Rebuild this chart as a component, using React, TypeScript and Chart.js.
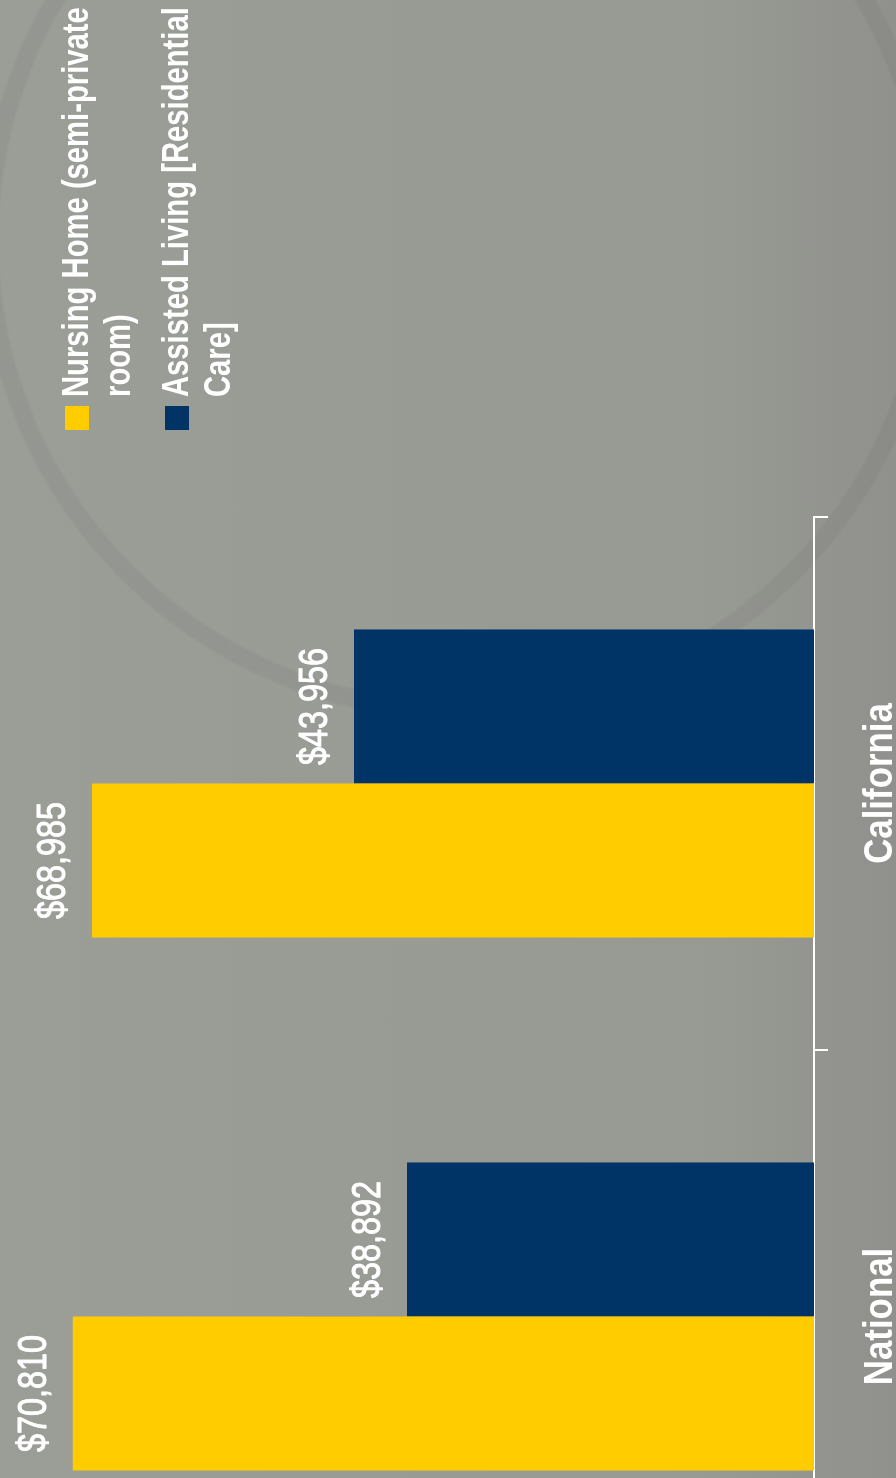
import React, { useEffect, useRef } from "react";
import { Chart, registerables } from "chart.js";

Chart.register(...registerables);

const categories = ["National", "California"];
const nursingHome = [70810, 68985];
const assistedLiving = [38892, 43956];
const seriesNames = [
  ["Nursing Home (semi-private", "room)"],
  ["Assisted Living [Residential", "Care]"],
];
const seriesColors = ["#FFCC00", "#003366"];

const FONT = "'Liberation Sans', Arial, sans-serif";

// draws value labels above bars and category labels under the axis (condensed like Arial Narrow)
const textPlugin = {
  id: "narrowText",
  afterDatasetsDraw(chart: any) {
    const ctx = chart.ctx;
    ctx.save();
    ctx.fillStyle = "#ffffff";
    ctx.strokeStyle = "#ffffff";
    ctx.lineWidth = 1;
    ctx.lineJoin = "round";
    ctx.textAlign = "center";
    ctx.textBaseline = "alphabetic";
    ctx.font = `normal 41px ${FONT}`;
    chart.data.datasets.forEach((ds: any, di: number) => {
      const meta = chart.getDatasetMeta(di);
      meta.data.forEach((bar: any, i: number) => {
        const v = ds.data[i];
        const txt = "$" + v.toLocaleString("en-US");
        ctx.save();
        ctx.translate(bar.x, bar.y - 27);
        ctx.scale(0.79, 1);
        ctx.fillText(txt, 0, 0);
        ctx.strokeText(txt, 0, 0);
        ctx.restore();
      });
    });
    const xs = chart.scales.x;
    ctx.font = `bold 41px ${FONT}`;
    chart.data.labels.forEach((lab: string, i: number) => {
      ctx.save();
      ctx.translate(xs.getPixelForValue(i), xs.top + 78);
      ctx.scale(0.85, 1);
      ctx.fillText(lab, 0, 0);
      ctx.restore();
    });
    ctx.restore();
  },
};

export default function App() {
  const ref = useRef<HTMLCanvasElement | null>(null);
  useEffect(() => {
    if (!ref.current) return;
    const chart = new Chart(ref.current, {
      type: "bar",
      data: {
        labels: categories,
        datasets: [
          {
            label: seriesNames[0].join(" "),
            data: nursingHome,
            backgroundColor: seriesColors[0],
            borderWidth: 0,
            categoryPercentage: 0.578,
            barPercentage: 1,
          },
          {
            label: seriesNames[1].join(" "),
            data: assistedLiving,
            backgroundColor: seriesColors[1],
            borderWidth: 0,
            categoryPercentage: 0.578,
            barPercentage: 1,
          },
        ],
      },
      options: {
        responsive: false,
        animation: false,
        devicePixelRatio: 1,
        layout: { padding: { top: 29, right: 517, left: 0, bottom: 0 } },
        plugins: { legend: { display: false }, tooltip: { enabled: false } },
        scales: {
          x: {
            grid: {
              offset: true,
              drawOnChartArea: false,
              drawTicks: true,
              tickLength: 14,
              color: "#ffffff",
              lineWidth: 2,
            },
            border: { color: "#ffffff", width: 2 },
            ticks: { display: false },
            afterFit: (s: any) => {
              s.height = 82;
            },
          },
          y: { display: false, min: 0, max: 75000 },
        },
      },
      plugins: [textPlugin],
    } as any);
    return () => chart.destroy();
  }, []);

  return (
    <div
      style={{
        position: "absolute",
        left: 0,
        top: 0,
        width: 896,
        height: 1478,
        overflow: "hidden",
        background:
          "radial-gradient(circle at 460px 240px, rgba(0,0,0,0) 460px, rgba(0,0,0,0.045) 463px, rgba(0,0,0,0.045) 478px, rgba(0,0,0,0) 481px), linear-gradient(to right, #9b9d97 0%, #979993 80%, #90918c 100%)",
      }}
    >
      <div
        style={{
          position: "absolute",
          left: 0,
          top: 0,
          width: 1478,
          height: 896,
          overflow: "hidden",
          transformOrigin: "0 0",
          transform: "translateY(1478px) rotate(-90deg)",
        }}
      >
        <canvas
          ref={ref}
          width={1583}
          height={896}
          style={{ position: "absolute", left: -105, top: 0, width: 1583, height: 896 }}
        />
        {seriesNames.map((lines, i) => (
          <div
            key={i}
            style={{
              position: "absolute",
              left: 1048,
              top: 55 + i * 100,
              color: "#ffffff",
              fontFamily: FONT,
              fontWeight: "bold",
              fontSize: 37,
              lineHeight: "42px",
              whiteSpace: "nowrap",
            }}
          >
            <span
              style={{
                position: "absolute",
                left: 0,
                top: 10,
                width: 24,
                height: 24,
                background: seriesColors[i],
              }}
            />
            <div
              style={{
                position: "absolute",
                left: 33,
                top: 0,
                transform: "scaleX(0.79)",
                transformOrigin: "0 0",
              }}
            >
              {lines.map((l, j) => (
                <div key={j}>{l}</div>
              ))}
            </div>
          </div>
        ))}
      </div>
    </div>
  );
}
